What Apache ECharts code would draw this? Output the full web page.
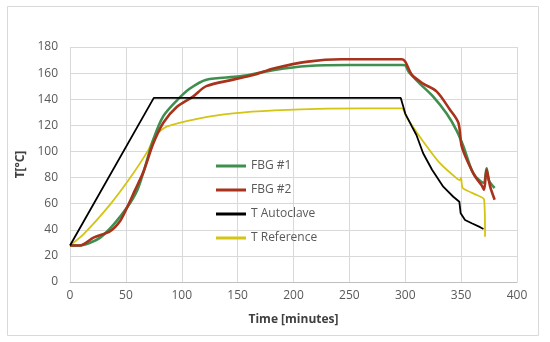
<!DOCTYPE html>
<html><head><meta charset="utf-8">
<script src="https://cdn.jsdelivr.net/npm/echarts@6/dist/echarts.min.js"></script>
<style>html,body{margin:0;padding:0;background:#fff}#c{width:550px;height:342px}</style>
</head><body><div id="c"></div>
<script>
var seriesNames = ['FBG #1', 'FBG #2', 'T Autoclave', 'T Reference'];
var xTicks = [0, 50, 100, 150, 200, 250, 300, 350, 400];
var yTicks = [0, 20, 40, 60, 80, 100, 120, 140, 160, 180];

var fbg1Time = [0, 9, 18, 27, 39, 51, 60, 66, 74.5, 83.5, 95.5, 107, 122, 152, 183, 213, 250, 297, 300, 303, 313, 325, 337, 346, 352, 361, 370, 372.8, 374.7, 380];
var fbg1Temp = [28, 28, 30, 34, 44, 57, 70, 85, 109, 127, 139, 148, 155, 157.5, 162.5, 165.5, 166.2, 166.2, 166, 161, 152, 142, 129, 116, 104, 83, 76, 87, 78, 72];

var fbg2Time = [0, 9, 21, 36, 45, 51, 58, 66, 74.5, 83.5, 95.5, 110, 122, 146, 164, 183, 213, 243, 297, 300, 306, 316, 328, 340, 347.5, 350.5, 356.5, 362.4, 368.4, 370.5, 372.8, 376, 380];
var fbg2Temp = [28, 28, 34, 39, 47, 57, 70, 85, 106, 122, 134, 142, 150, 155, 158.6, 163.7, 168.8, 170.6, 170.6, 168.8, 158.6, 152, 146, 132, 122, 104, 91, 81, 74, 70.5, 86, 73, 63];

var autoTime = [0, 75, 296, 300, 306, 310, 316, 324, 334, 343, 348.4, 349.6, 353.5, 359.5, 367, 370];
var autoTemp = [28, 141, 141, 129, 119, 112.6, 98.6, 86, 73, 65.3, 61.5, 52.6, 47.5, 45, 42, 40.6];

var refTime = [0, 12, 36, 54, 70, 76, 86.5, 116, 146, 183, 230, 297, 301, 313, 331, 346, 349, 350, 351.4, 364, 370.5, 371.4];
var refTemp = [28, 36.5, 59.5, 80, 101, 112, 119, 125.4, 129.2, 131.5, 132.8, 133, 126.6, 111.3, 91, 79.4, 78, 80, 72, 66.6, 63.3, 34.7];

function pairs(t, v) { return t.map(function (x, i) { return [x, v[i]]; }); }

var chart = echarts.init(document.getElementById('c'), null, {renderer: 'canvas'});
var font = 'Open Sans, Liberation Sans, sans-serif';
var axisLabelStyle = {color: '#595959', fontSize: 12, fontFamily: font};
chart.setOption({
  animation: false,
  backgroundColor: '#fff',
  graphic: [{type: 'rect', shape: {x: 7.5, y: 6.5, width: 531, height: 329}, style: {fill: 'none', stroke: '#d9d9d9', lineWidth: 1}, silent: true}],
  grid: {left: 70, right: 33, top: 47, bottom: 60},
  xAxis: {
    type: 'value', min: xTicks[0], max: xTicks[xTicks.length - 1], interval: 50,
    name: 'Time [minutes]', nameLocation: 'middle', nameGap: 32,
    nameTextStyle: {color: '#404040', fontSize: 12, fontWeight: 'bold', fontFamily: font},
    axisLine: {show: true, lineStyle: {color: '#bfbfbf'}},
    axisTick: {show: false},
    axisLabel: axisLabelStyle,
    splitLine: {show: true, lineStyle: {color: '#d9d9d9'}}
  },
  yAxis: {
    type: 'value', min: yTicks[0], max: yTicks[yTicks.length - 1], interval: 20,
    name: 'T[°C]', nameLocation: 'middle', nameGap: 37, nameRotate: 90,
    nameTextStyle: {color: '#404040', fontSize: 12, fontWeight: 'bold', fontFamily: font},
    axisLine: {show: false},
    axisTick: {show: false},
    axisLabel: Object.assign({margin: 12}, axisLabelStyle),
    splitLine: {show: true, lineStyle: {color: '#d9d9d9'}}
  },
  legend: {
    orient: 'vertical', left: 211, top: 153, itemGap: 8, itemWidth: 30, itemHeight: 3, icon: 'rect',
    textStyle: {color: '#595959', fontSize: 12, fontFamily: font, lineHeight: 16},
    data: seriesNames
  },
  series: [
    {name: seriesNames[0], type: 'line', symbol: 'none', smooth: 0.3, data: pairs(fbg1Time, fbg1Temp), lineStyle: {color: '#3f8f4f', width: 2.6}, itemStyle: {color: '#3f8f4f'}, z: 3},
    {name: seriesNames[1], type: 'line', symbol: 'none', smooth: 0.3, data: pairs(fbg2Time, fbg2Temp), lineStyle: {color: '#a8321c', width: 2.6}, itemStyle: {color: '#a8321c'}, z: 4},
    {name: seriesNames[2], type: 'line', symbol: 'none', smooth: false, data: pairs(autoTime, autoTemp), lineStyle: {color: '#000000', width: 1.8}, itemStyle: {color: '#000000'}, z: 5},
    {name: seriesNames[3], type: 'line', symbol: 'none', smooth: 0.2, data: pairs(refTime, refTemp), lineStyle: {color: '#d4c414', width: 1.8}, itemStyle: {color: '#d4c414'}, z: 2}
  ]
});
</script></body></html>
